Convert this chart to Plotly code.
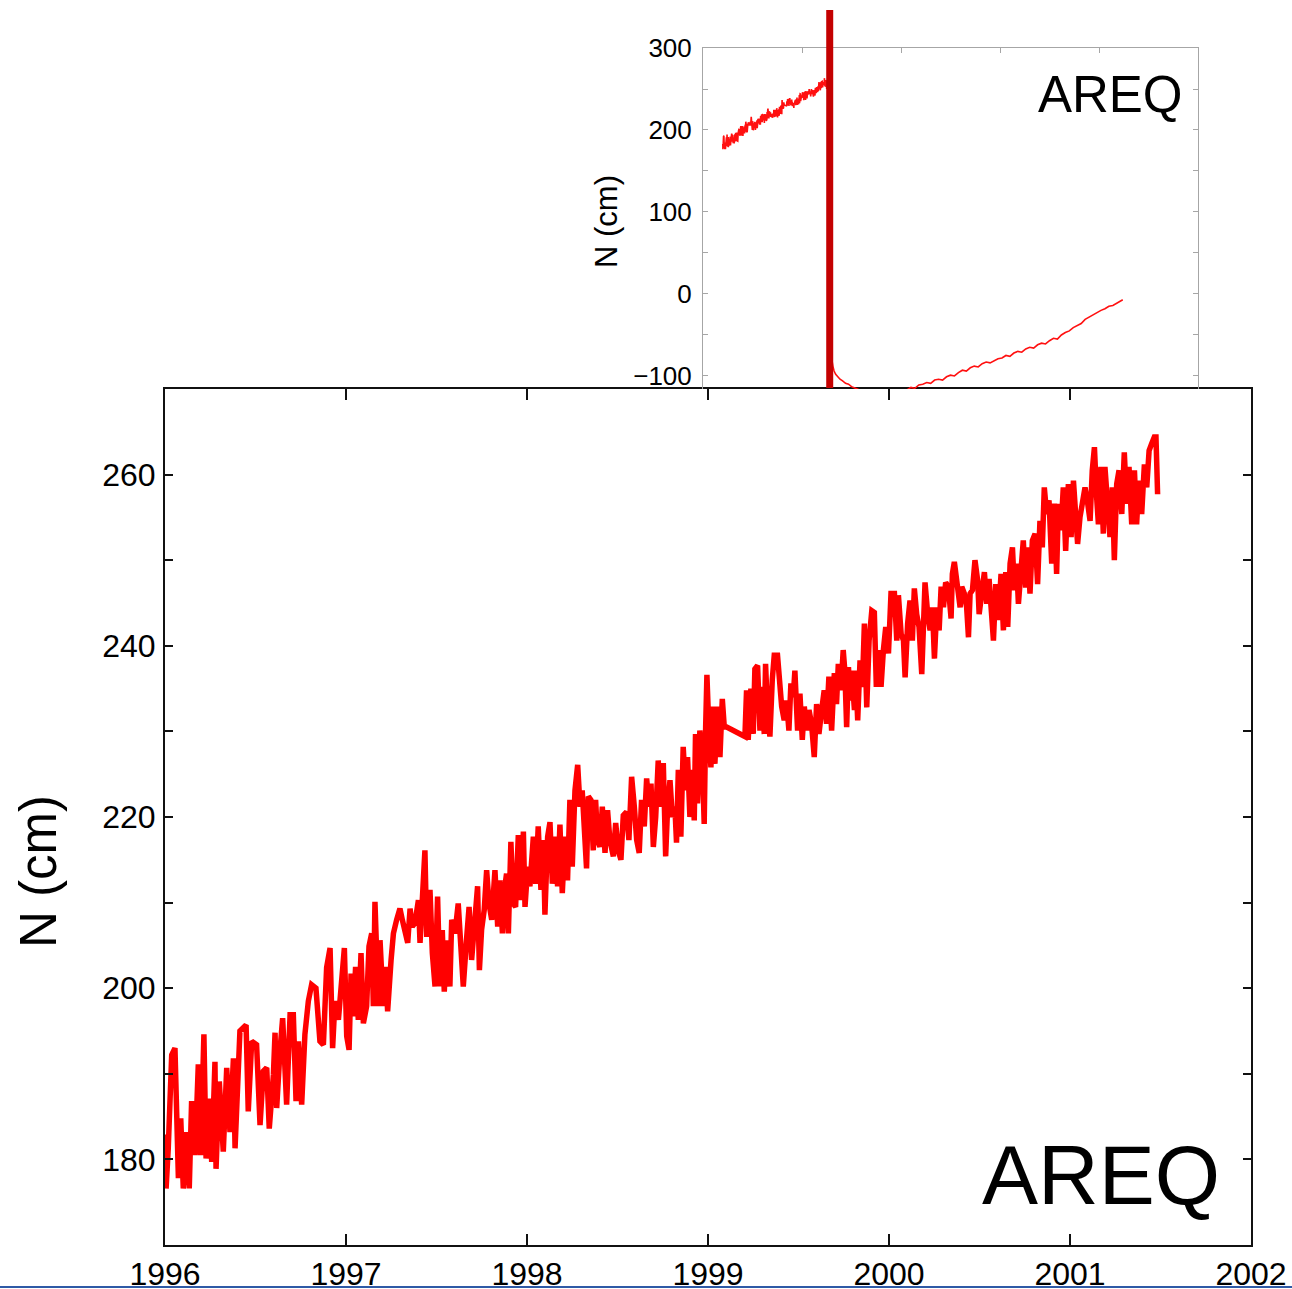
import plotly.graph_objects as go

# ---------------- data ----------------
# Main panel: AREQ north component, 1996 - mid 2001 (cm)
years = [
    1996.000, 1996.006, 1996.018, 1996.037, 1996.055, 1996.074, 1996.087, 1996.101, 1996.120, 1996.134,
    1996.147, 1996.166, 1996.184, 1996.197, 1996.215, 1996.227, 1996.245, 1996.258, 1996.276, 1996.282,
    1996.300, 1996.322, 1996.341, 1996.359, 1996.378, 1996.387, 1996.414, 1996.448, 1996.460, 1996.479,
    1996.506, 1996.525, 1996.543, 1996.562, 1996.576, 1996.599, 1996.608, 1996.617, 1996.635, 1996.650,
    1996.672, 1996.691, 1996.709, 1996.724, 1996.737, 1996.755, 1996.773, 1996.792, 1996.810, 1996.834,
    1996.856, 1996.875, 1996.893, 1996.912, 1996.926, 1996.939,
    1996.958, 1996.976, 1996.991, 1997.004, 1997.017, 1997.028, 1997.041, 1997.053, 1997.068, 1997.083,
    1997.096, 1997.114, 1997.127, 1997.142, 1997.151, 1997.160, 1997.179, 1997.188, 1997.206, 1997.219,
    1997.230, 1997.249, 1997.262, 1997.280, 1997.298, 1997.311, 1997.326, 1997.341, 1997.354, 1997.366,
    1997.381, 1997.400, 1997.409, 1997.418, 1997.436, 1997.446, 1997.464, 1997.477, 1997.492, 1997.506,
    1997.519, 1997.532, 1997.543, 1997.556, 1997.574, 1997.584, 1997.602, 1997.620, 1997.635, 1997.648,
    1997.667, 1997.680, 1997.694, 1997.713, 1997.727, 1997.737, 1997.749, 1997.764, 1997.777, 1997.790,
    1997.805, 1997.823, 1997.838, 1997.851, 1997.864, 1997.878,
    1997.887, 1997.897, 1997.911, 1997.924, 1997.937, 1997.952, 1997.967, 1997.980, 1997.989, 1998.004,
    1998.016, 1998.035, 1998.048, 1998.062, 1998.077, 1998.090, 1998.099, 1998.114, 1998.127, 1998.140,
    1998.154, 1998.169, 1998.182, 1998.195, 1998.210, 1998.224, 1998.237, 1998.250, 1998.265, 1998.280,
    1998.293, 1998.305, 1998.316, 1998.329, 1998.339, 1998.353, 1998.366, 1998.379, 1998.390, 1998.403,
    1998.416, 1998.431, 1998.445, 1998.458, 1998.477, 1998.490, 1998.504, 1998.519, 1998.532, 1998.550,
    1998.563, 1998.578, 1998.593, 1998.606, 1998.620, 1998.633, 1998.648, 1998.661, 1998.674, 1998.685,
    1998.698, 1998.711, 1998.725, 1998.738, 1998.753, 1998.766, 1998.777, 1998.790, 1998.803, 1998.817,
    1998.826, 1998.836, 1998.850, 1998.863, 1998.876, 1998.887, 1998.900, 1998.913, 1998.924, 1998.931,
    1998.942, 1998.955, 1998.968, 1998.979, 1998.987, 1998.994, 1999.005, 1999.016, 1999.029, 1999.038,
    1999.053, 1999.066, 1999.079, 1999.090, 1999.103, 1999.204, 1999.213, 1999.222, 1999.237, 1999.250,
    1999.259, 1999.274, 1999.287, 1999.296, 1999.311, 1999.318, 1999.329, 1999.342, 1999.355, 1999.366,
    1999.384, 1999.397, 1999.407, 1999.421, 1999.434, 1999.447, 1999.458, 1999.471, 1999.480, 1999.495,
    1999.508, 1999.521, 1999.532, 1999.545, 1999.558, 1999.572, 1999.587, 1999.600, 1999.613, 1999.628,
    1999.642, 1999.655, 1999.668, 1999.683, 1999.698, 1999.710, 1999.720, 1999.734, 1999.747, 1999.756,
    1999.766, 1999.776, 1999.785, 1999.794, 1999.809, 1999.816, 1999.827, 1999.840, 1999.853, 1999.864,
    1999.877, 1999.890, 1999.905, 1999.919, 1999.930, 1999.941, 1999.956, 1999.969, 1999.982, 1999.997,
    2000.011, 2000.030, 2000.043, 2000.052, 2000.067, 2000.080, 2000.089, 2000.103, 2000.116, 2000.129,
    2000.140, 2000.153, 2000.166, 2000.181, 2000.190, 2000.199, 2000.214, 2000.227, 2000.240, 2000.251,
    2000.264, 2000.277, 2000.288, 2000.301, 2000.313, 2000.328, 2000.343, 2000.350, 2000.361, 2000.374,
    2000.383, 2000.393, 2000.402, 2000.416, 2000.429, 2000.439, 2000.448, 2000.461, 2000.475, 2000.490,
    2000.498, 2000.512, 2000.527, 2000.540, 2000.553, 2000.564, 2000.577, 2000.590, 2000.604, 2000.619,
    2000.632, 2000.645, 2000.656, 2000.669, 2000.682, 2000.693,
    2000.705, 2000.715, 2000.729, 2000.742, 2000.755, 2000.766, 2000.779, 2000.792, 2000.807, 2000.821,
    2000.834, 2000.847, 2000.858, 2000.871, 2000.884, 2000.899, 2000.914, 2000.926, 2000.936, 2000.950,
    2000.963, 2000.976, 2000.991, 2001.006, 2001.019, 2001.031, 2001.042, 2001.055, 2001.068, 2001.083,
    2001.098, 2001.111, 2001.123, 2001.135, 2001.147, 2001.157, 2001.171, 2001.184, 2001.193, 2001.208,
    2001.221, 2001.234, 2001.245, 2001.258, 2001.271, 2001.286, 2001.300, 2001.313, 2001.326, 2001.341,
    2001.356, 2001.368, 2001.381, 2001.396, 2001.411, 2001.424, 2001.437, 2001.451, 2001.466, 2001.475,
    2001.484,
]
north_cm = [
    182.9, 176.6, 181.3, 192.2, 193.0, 177.8, 184.8, 176.6, 183.2, 176.6,
    186.8, 180.5, 191.1, 180.5, 194.6, 180.1, 187.1, 179.7, 191.4, 178.9,
    189.1, 180.9, 190.7, 183.2, 191.8, 181.3, 195.0, 195.7, 185.6, 193.8,
    193.4, 184.0, 190.3, 190.7, 183.6, 189.9, 194.8, 186.0, 192.6, 196.5,
    186.4, 196.9, 196.9, 186.8, 193.8, 186.4, 194.6, 198.5, 200.4, 200.0,
    193.8, 193.4, 202.4, 204.7, 193.0, 198.5,
    196.3, 200.2, 204.7, 194.4, 192.8, 201.7, 196.7, 202.5, 196.3, 204.1,
    195.9, 197.9, 204.9, 206.4, 197.9, 210.1, 197.9, 205.6, 197.9, 202.5,
    197.3, 203.3, 206.4, 208.0, 209.3, 208.0, 206.8, 205.3, 209.3, 207.2,
    207.6, 210.3, 205.3, 209.2, 216.1, 206.0, 211.5, 204.1, 200.2, 210.7,
    200.2, 206.8, 199.6, 205.6, 200.2, 208.0, 206.4, 209.9, 204.9, 200.2,
    206.0, 209.5, 203.3, 208.4, 211.9, 202.1, 206.8, 209.2, 213.8, 209.9,
    208.0, 213.8, 207.2, 212.6, 206.4, 211.9,
    213.4, 206.4, 217.1, 209.9, 209.5, 217.9, 210.3, 218.3, 209.5, 214.2,
    211.9, 217.7, 212.2, 218.9, 211.5, 217.3, 208.6, 217.7, 219.4, 212.2,
    217.7, 211.9, 219.1, 211.1, 217.7, 212.6, 222.0, 214.2, 223.1, 226.1,
    221.2, 223.1, 217.3, 214.0, 222.4, 222.0, 216.1, 222.0, 217.3, 216.5,
    221.2, 215.8, 220.8, 217.3, 215.4, 219.3, 216.1, 215.0, 220.2, 220.6,
    217.3, 224.7, 221.2, 217.3, 215.8, 222.0, 218.9, 224.5, 221.2, 223.9,
    216.5, 220.0, 226.6, 221.2, 226.3, 215.4, 221.2, 224.3, 220.0, 221.2,
    217.0, 225.5, 217.7, 228.2, 223.1, 227.0, 220.0, 225.5, 219.6, 229.7,
    221.6, 230.1, 227.0, 219.2, 230.5, 236.6, 230.1, 225.8, 232.9, 226.2,
    232.9, 227.0, 233.8, 230.5, 230.5, 229.4, 234.8, 229.0, 235.0, 229.7,
    237.3, 237.7, 230.1, 235.2, 229.7, 237.9, 232.1, 229.4, 236.0, 238.9,
    238.9, 234.8, 232.9, 231.3, 233.6, 230.1, 235.6, 234.0, 237.1, 230.1,
    234.4, 229.0, 232.9, 230.1, 232.5, 230.9, 227.0, 233.2, 229.7, 232.5,
    234.8, 230.9, 236.4, 230.1, 236.8, 233.2, 237.9, 234.8, 239.5, 237.1,
    230.5, 237.5, 233.6, 237.1, 232.5, 237.1, 231.3, 238.3, 235.2, 242.6,
    232.8, 240.6, 244.1, 243.9, 235.2, 239.5, 235.2, 239.5, 242.2, 239.1,
    246.1, 246.1, 240.6, 245.9, 241.4, 240.6, 236.3, 242.6, 245.3, 240.6,
    246.7, 243.7, 242.2, 236.7, 245.7, 247.4, 243.7, 241.8, 244.5, 238.5,
    244.5, 241.8, 246.9, 244.5, 247.4, 246.9, 243.2, 248.4, 249.8, 247.6,
    246.1, 244.5, 246.9, 246.1, 244.5, 241.0, 246.1, 246.5, 250.0, 247.6,
    243.7, 245.7, 248.6, 244.9, 247.8, 244.5, 240.6, 247.2, 243.0, 248.4,
    241.8, 248.6, 242.2, 249.6, 251.5, 246.5,
    249.6, 244.9, 249.2, 252.3, 246.8, 251.5, 246.1, 252.3, 253.1, 247.2,
    254.6, 251.5, 258.5, 255.4, 257.0, 249.6, 256.6, 248.4, 256.6, 253.5,
    258.5, 251.1, 258.9, 252.7, 259.3, 254.6, 251.9, 255.0, 257.0, 258.5,
    256.6, 254.6, 260.5, 263.2, 257.4, 254.2, 260.9, 253.1, 260.9, 255.0,
    252.7, 258.5, 250.0, 258.9, 260.5, 255.4, 262.6, 256.6, 260.9, 254.2,
    260.5, 254.2, 259.3, 255.4, 261.2, 258.5, 262.8, 263.6, 264.4, 264.4,
    257.7,
]

# Inset: the same series continued after the 2001 earthquake (cm)
quake_year = 2001.40
post_years = [
    2001.49, 2001.52, 2001.56, 2001.62, 2001.70, 2001.80, 2001.92, 2002.05, 2002.20, 2002.35,
    2002.50, 2002.70, 2003.00, 2003.50, 2004.00, 2004.50, 2005.00, 2005.30, 2005.50, 2005.70,
    2005.90, 2006.10, 2006.30, 2006.50, 2006.70, 2006.90, 2007.10, 2007.30, 2007.50, 2007.70,
    2007.90, 2008.10, 2008.30, 2008.50, 2008.70, 2008.90, 2009.10, 2009.30, 2009.50, 2009.70,
    2009.90, 2010.10, 2010.30, 2010.50, 2010.70, 2010.90, 2011.10, 2011.30, 2011.50, 2011.70,
    2011.90, 2012.10, 2012.30, 2012.50, 2012.70, 2012.90, 2013.10, 2013.30, 2013.50, 2013.70,
    2013.90, 2014.10, 2014.30, 2014.50, 2014.70, 2014.90, 2015.10, 2015.30, 2015.50, 2015.70,
    2015.90, 2016.10, 2016.20,
]
post_north_cm = [
    -75, -82, -88, -94, -98, -101, -104, -106, -109, -110,
    -113, -115, -118, -121, -122, -121, -119, -117, -114, -115,
    -111, -110, -108, -109, -105, -104, -105, -101, -99, -100,
    -96, -93, -94, -90, -88, -89, -85, -83, -84, -81,
    -79, -78, -75, -76, -72, -70, -71, -67, -65, -66,
    -62, -60, -61, -57, -54, -55, -50, -47, -45, -41,
    -38, -36, -31, -28, -26, -22, -20, -18, -15, -14,
    -11, -9, -7,
]

main_xticks = [1996, 1997, 1998, 1999, 2000, 2001, 2002]
station = "AREQ"
y_label = "N (cm)"

# ---------------- figure ----------------
W, H = 1292, 1289
FONT = "Liberation Sans, Arial, Helvetica, sans-serif"


def px(xp):
    return xp / W


def py(yp):
    return 1 - yp / H


fig = go.Figure()

fig.add_trace(go.Scatter(
    x=years + post_years, y=north_cm + post_north_cm,
    xaxis="x2", yaxis="y2", mode="lines",
    line=dict(color="#ff1010", width=1.6), showlegend=False, hoverinfo="skip"))

fig.add_trace(go.Scatter(
    x=years, y=north_cm, mode="lines",
    line=dict(color="#ff0000", width=5.5), showlegend=False, hoverinfo="skip"))

grey = "#a6a6a6"

fig.update_layout(
    width=W, height=H, autosize=False,
    margin=dict(l=0, r=0, t=0, b=0),
    paper_bgcolor="white", plot_bgcolor="rgba(0,0,0,0)",
    template="none",
    font=dict(family=FONT, color="black"),
    xaxis=dict(
        domain=[px(165), px(1251)], range=[1996, 2002], anchor="y",
        tickvals=main_xticks, ticktext=[str(v) for v in main_xticks],
        ticks="inside", ticklen=11, tickwidth=1.5, tickcolor="#111",
        showline=True, linecolor="#111", linewidth=2, mirror="ticks",
        showgrid=False, zeroline=False,
        tickfont=dict(family=FONT, size=32, color="black"),
        ticklabelstandoff=0,
    ),
    yaxis=dict(
        domain=[py(1245), py(389)], range=[170, 270], anchor="x",
        tick0=0, dtick=20,
        ticks="inside", ticklen=8, tickwidth=1.5, tickcolor="#111",
        minor=dict(dtick=10, tick0=0, ticks="inside", ticklen=8, tickwidth=1.5, tickcolor="#111", showgrid=False),
        showline=True, linecolor="#111", linewidth=2, mirror="ticks",
        showgrid=False, zeroline=False,
        tickfont=dict(family=FONT, size=32, color="black"),
        ticklabelstandoff=1,
    ),
    xaxis2=dict(
        domain=[px(703), px(1198)], range=[1995, 2020], anchor="y2", side="top",
        tick0=1995, dtick=5,
        ticks="inside", ticklen=5, tickwidth=1, tickcolor=grey,
        showline=True, linecolor=grey, linewidth=1, mirror=False,
        showgrid=False, zeroline=False, showticklabels=False,
    ),
    yaxis2=dict(
        domain=[py(389), py(48)], range=[-115.9, 300], anchor="x2",
        tick0=0, dtick=100,
        ticks="inside", ticklen=5, tickwidth=1, tickcolor=grey,
        minor=dict(dtick=50, tick0=0, ticks="inside", ticklen=5, tickwidth=1, tickcolor=grey, showgrid=False),
        showline=True, linecolor=grey, linewidth=1, mirror="ticks",
        showgrid=False, zeroline=False,
        tickfont=dict(family=FONT, size=26, color="black"),
        ticklabelstandoff=5,
    ),
    shapes=[
        dict(type="line", xref="x2", yref="paper", x0=quake_year, x1=quake_year,
             y0=py(388), y1=py(10), line=dict(color="#c40000", width=7), layer="above"),
        dict(type="line", xref="paper", yref="paper", x0=0, x1=1, y0=py(1287), y1=py(1287),
             line=dict(color="#2f5aa6", width=2), layer="above"),
    ],
    annotations=[
        dict(text=station, xref="paper", yref="paper", x=px(1222), y=py(1175),
             xanchor="right", yanchor="middle", showarrow=False,
             font=dict(family=FONT, size=84, color="black")),
        dict(text=station, xref="paper", yref="paper", x=px(1185), y=py(94),
             xanchor="right", yanchor="middle", showarrow=False,
             font=dict(family=FONT, size=51, color="black")),
        dict(text=y_label, xref="paper", yref="paper", x=px(38), y=py(872),
             xanchor="center", yanchor="middle", textangle=-90, showarrow=False,
             font=dict(family=FONT, size=51, color="black")),
        dict(text=y_label, xref="paper", yref="paper", x=px(607), y=py(222),
             xanchor="center", yanchor="middle", textangle=-90, showarrow=False,
             font=dict(family=FONT, size=31, color="black")),
    ],
)

fig.write_html("out.html", config={"displayModeBar": False})
